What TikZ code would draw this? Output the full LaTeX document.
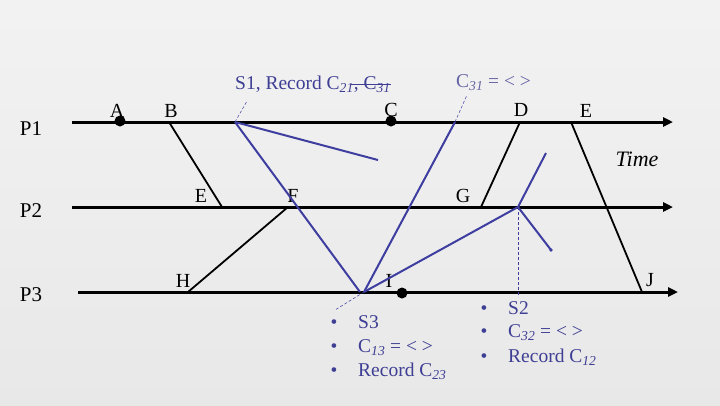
\documentclass[tikz,border=0pt]{standalone}
\usepackage{fontspec}
\setmainfont{Liberation Serif}
\usetikzlibrary{arrows.meta,calc}
\definecolor{cutblue}{RGB}{62,62,160}
\definecolor{tagblue}{RGB}{62,62,148}
\definecolor{paleblue}{RGB}{100,100,165}
\newcommand{\csub}[1]{\textsubscript{\itshape #1}}
\tikzset{
  procline/.style={line width=3pt, -{Triangle[length=10pt,width=9pt]}},
  msgline/.style={line width=1.8pt},
  cutline/.style={cutblue, line width=2pt},
  leader/.style={cutblue, line width=0.5pt, dash pattern=on 3pt off 2pt},
  proclabel/.style={font=\fontsize{21}{25}\selectfont, anchor=base, inner sep=0pt},
  evlabel/.style={font=\fontsize{20}{24}\selectfont, anchor=base, inner sep=0pt},
  cuttext/.style={tagblue, font=\fontsize{19.5}{23}\selectfont, anchor=base west, inner sep=0pt}
}
\begin{document}
\begin{tikzpicture}[x=1pt,y=-1pt]
\shade[top color=black!5, bottom color=black!9] (0,0) rectangle (720,405);
\useasboundingbox (0,0) rectangle (720,405);

% processes
\foreach \p/\y/\xs/\xe/\b in {1/122/72/673/135, 2/207/72/673/217, 3/292/78/678/301} {
  \coordinate (p\p s) at (\xs,\y);
  \coordinate (p\p e) at (\xe,\y);
  \draw[procline] (p\p s) -- (p\p e);
  \node[proclabel] (lp\p) at (31,\b) {P\p};
}
\node[evlabel, font=\fontsize{22}{26}\selectfont\itshape] (time) at (637,166) {Time};

% events
\coordinate (A) at (120,121);
\coordinate (B) at (169,122);
\coordinate (C) at (391,121);
\coordinate (D) at (520,122);
\coordinate (E1) at (571,122);
\coordinate (E2) at (222,207);
\coordinate (F) at (288,207);
\coordinate (G) at (481,207);
\coordinate (H) at (188,292);
\coordinate (I) at (402,293);
\coordinate (J) at (642,292);
\foreach \n/\t/\x/\y in {lA/A/117/117, lB/B/171/117, lC/C/391/116, lD/D/521/116,
  lE1/E/586/117, lE2/E/201/202, lF/F/293/202, lG/G/463/202, lH/H/183/287,
  lI/I/389/287, lJ/J/650/286} {
  \node[evlabel] (\n) at (\x,\y) {\t};
}
\foreach \d in {A,C,I} {
  \fill (\d) circle[radius=5.5pt];
}
\draw[msgline] (B) -- (E2);
\draw[msgline] (H) -- (F);
\draw[msgline] (G) -- (D);
\draw[msgline] (E1) -- (J);

% snapshot
\coordinate (s1) at (235,122);
\coordinate (s1end) at (378,160);
\coordinate (s3in) at (360,292);
\coordinate (s3) at (364,292);
\coordinate (c31) at (455,122);
\coordinate (s2) at (518,207);
\coordinate (s2up) at (546,153);
\coordinate (s2dn) at (551,250);
\draw[cutline] (s1) -- (s1end);
\draw[cutline] (s1) -- (s3in);
\draw[cutline] (s3) -- (c31);
\draw[cutline] (s3) -- (s2);
\draw[cutline] (s2) -- (s2up);
\draw[cutline] (s2) -- (s2dn);
\fill[cutblue] (s2dn) circle[radius=1.8pt];

\coordinate (s1tag) at (247,101);
\coordinate (c31tag) at (467,95);
\coordinate (s3tag) at (335,310);
\coordinate (s2tag) at (518,297);
\draw[leader] (s1) -- (s1tag);
\draw[leader] (c31) -- (c31tag);
\draw[leader] (s3) -- (s3tag);
\draw[leader] (s2) -- (s2tag);

\node[cuttext] (s1lbl) at (235,89) {S1, Record C\csub{21}, C\csub{31}};
\draw[tagblue, line width=1pt] ([xshift=-40pt,yshift=5pt]s1lbl.base east) -- ([yshift=5pt]s1lbl.base east);
\node[cuttext, paleblue] (c31lbl) at (456,87) {C\csub{31} = < >};

\foreach \t/\b [count=\i] in {S3/328, {C\csub{13} = < >}/352, {Record C\csub{23}}/376} {
  \node[cuttext, anchor=base] (dot3\i) at (334,\b) {\textbullet};
  \node[cuttext] (item3\i) at (358,\b) {\t};
}
\foreach \t/\b [count=\i] in {S2/314, {C\csub{32} = < >}/337, {Record C\csub{12}}/362} {
  \node[cuttext, anchor=base] (dot2\i) at (484,\b) {\textbullet};
  \node[cuttext] (item2\i) at (508,\b) {\t};
}
\end{tikzpicture}
\end{document}
